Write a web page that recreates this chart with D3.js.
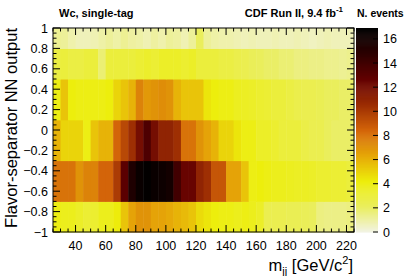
<!DOCTYPE html>
<html><head><meta charset="utf-8">
<script src="https://cdn.jsdelivr.net/npm/d3@7"></script>
<style>
body{margin:0;background:#fff;}
text{font-family:"Liberation Sans",Arial,Helvetica,sans-serif;}
</style></head>
<body><svg id="c" width="407" height="276"></svg>
<script>
// x bins: 5 GeV from 25 to 225
const xEdges = d3.range(25, 226, 5);
// y bins (NN output)
const yEdges = [-1, -0.7, -0.3, 0.1, 0.5, 0.8, 1];
// counts per row, bottom row first; 40 values each
const row1 = [4,3.8,3.8,3.5,3.2,3.3,3.8,3.8,4.3,5.5,6.5,7,7,6.5,6.5,6.3,6,5.8,5.5,4.8,4.5,4.2,4,4,3.8,4,3.8,3.5,2.5,2.5,2.5,2.4,2.4,2.3,2.2,1.6,1.5,1.5,1.5,1.6];
const row2 = [8,8,8,7,7.5,7.5,8.5,8.5,10,13,15.5,16.5,16.8,16.5,16.3,16,14,12.5,12.5,11,10.5,9,9,6.5,6.5,5.5,4,4.2,4,3.8,3.8,3.7,3.6,3.6,3.5,3.3,3.3,3.2,3.2,3];
const row3 = [6,5,5,5,4,5.5,6,6,8.5,9.5,10.5,12,13.5,12,11,11,10.5,8,8,7,6.5,6,5,5,4.5,4,4,3.5,3.5,3.3,3,3,3,2.7,2.5,2.5,2.2,2,2,2];
const row4 = [4,5.5,4.2,4,4,4,4,4.2,5,5.5,6,7.5,6.8,7,7.2,7,6,5.5,5.5,5.5,4.5,4.2,4,4,3.7,3.6,3.5,3.3,3.2,3,3,2.8,2.6,2.5,2.5,2.4,2.2,2.2,2,2];
const row5 = [2.8,3,2.8,2.8,3,3,1.8,3,3,3,3,3.2,3.4,3.2,3.5,3.5,3.5,3.3,3.5,3,3,3,2.8,2.8,2.6,2.5,2.3,2.2,2,2,1.8,1.8,1.6,1.6,1.5,1.5,1.4,1.4,1.3,1.4];
const row6 = [1.3,1.2,0.9,0.7,0.7,0.8,1,1.2,1,1.3,1.1,1,0.8,1.1,0.9,1.2,1.1,0.8,1.2,2.2,1.2,1,0.9,0.9,0.8,0.7,0.8,0.7,0.7,0.8,0.7,0.7,0.8,0.7,0.6,0.7,0.8,0.7,0.7,0.7];
const rows = [row1, row2, row3, row4, row5, row6];
const xTicks = [40,60,80,100,120,140,160,180,200,220];
const yTicks = [-1,-0.8,-0.6,-0.4,-0.2,0,0.2,0.4,0.6,0.8,1];
const zTicks = [0,2,4,6,8,10,12,14,16];
const zMax = 16.9;

const svg = d3.select("#c");
const L = 53, R = 354, T = 28, B = 232;
const x = d3.scaleLinear().domain([25,225]).range([L,R]);
const y = d3.scaleLinear().domain([-1,1]).range([B,T]);
const stops = [[242,243,230],[234,238,95],[237,238,11],[230,168,8],[212,101,9],[156,45,3],[99,0,1],[45,0,1],[0,0,0]];
const color = d3.scaleLinear()
  .domain(stops.map((s,i)=>i/(stops.length-1)*zMax))
  .range(stops.map(s=>`rgb(${s[0]},${s[1]},${s[2]})`))
  .clamp(true);

const cells = [];
rows.forEach((r,j)=>r.forEach((v,i)=>cells.push({x0:xEdges[i],x1:xEdges[i+1],y0:yEdges[j],y1:yEdges[j+1],v})));
svg.append("g").selectAll("rect").data(cells).join("rect")
  .attr("x",d=>x(d.x0)).attr("width",d=>x(d.x1)-x(d.x0)+0.5)
  .attr("y",d=>y(d.y1)).attr("height",d=>y(d.y0)-y(d.y1)+0.5)
  .attr("fill",d=>color(d.v));

// frame
svg.append("rect").attr("x",L).attr("y",T).attr("width",R-L).attr("height",B-T)
  .attr("fill","none").attr("stroke","#000").attr("stroke-width",1);

// ticks
const tk = svg.append("g").attr("stroke","#000").attr("stroke-width",1);
d3.range(25,226,5).forEach(v=>{
  const major = xTicks.includes(v);
  const len = major?7:3.5;
  tk.append("line").attr("x1",x(v)).attr("x2",x(v)).attr("y1",B).attr("y2",B-len);
  tk.append("line").attr("x1",x(v)).attr("x2",x(v)).attr("y1",T).attr("y2",T+len);
});
d3.range(-1,1.0001,0.05).forEach(v=>{
  const major = Math.abs(Math.round(v*5)-v*5)<1e-6;
  const len = major?7:3.5;
  tk.append("line").attr("x1",L).attr("x2",L+len).attr("y1",y(v)).attr("y2",y(v));
  tk.append("line").attr("x1",R).attr("x2",R-len).attr("y1",y(v)).attr("y2",y(v));
});

const fmt = v => (v<0?"\u2212":"") + d3.format("")(Math.abs(+v.toFixed(1)));
svg.append("g").selectAll("text").data(xTicks).join("text")
  .attr("x",d=>x(d)).attr("y",250).attr("text-anchor","middle")
  .attr("font-size",12.5).text(d=>d);
svg.append("g").selectAll("text").data(yTicks).join("text")
  .attr("x",48).attr("y",d=>y(d)+4.5).attr("text-anchor","end")
  .attr("font-size",12.5).text(d=>fmt(d));

// axis titles
const xt = svg.append("text").attr("x",353).attr("y",271).attr("text-anchor","end").attr("font-size",16.5);
xt.append("tspan").text("m");
xt.append("tspan").attr("font-size",11).attr("dy",4).text("jj");
xt.append("tspan").attr("dy",-4).text(" [GeV/c");
xt.append("tspan").attr("font-size",11).attr("dy",-7).text("2");
xt.append("tspan").attr("dy",7).text("]");
svg.append("text").attr("transform","translate(17,28) rotate(-90)").attr("text-anchor","end")
  .attr("font-size",16.5).text("Flavor-separator NN output");

// header texts
svg.append("text").attr("x",59).attr("y",17).attr("font-size",11).attr("font-weight","bold").text("Wc, single-tag");
const ht = svg.append("text").attr("x",343).attr("y",17).attr("text-anchor","end").attr("font-size",11).attr("font-weight","bold");
ht.append("tspan").text("CDF Run II, 9.4 fb");
ht.append("tspan").attr("font-size",8).attr("dy",-5).text("-1");
svg.append("text").attr("x",357).attr("y",17).attr("font-size",10.5).attr("font-weight","bold").text("N. events");

// colour bar
const CL = 356, CR = 378;
const z = d3.scaleLinear().domain([0,zMax]).range([B,T]);
const zs = d3.range(0,zMax,zMax/200);
svg.append("g").selectAll("rect").data(zs).join("rect")
  .attr("x",CL).attr("width",CR-CL)
  .attr("y",d=>z(d+zMax/200)).attr("height",d=>z(d)-z(d+zMax/200)+0.6)
  .attr("fill",d=>color(d+zMax/400));
const zt = svg.append("g").attr("stroke","#000");
zTicks.forEach(v=>zt.append("line").attr("x1",CR).attr("x2",CR-5).attr("y1",z(v)).attr("y2",z(v)));
svg.append("g").selectAll("text").data(zTicks).join("text")
  .attr("x",383).attr("y",d=>z(d)+4.5).attr("font-size",12.5).text(d=>d);
</script></body></html>
